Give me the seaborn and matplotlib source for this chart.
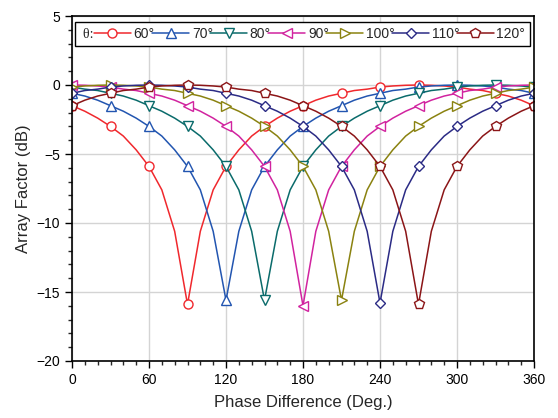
import matplotlib
matplotlib.use("Agg")
import matplotlib.pyplot as plt
import seaborn as sns
from matplotlib.legend_handler import HandlerBase
from matplotlib.lines import Line2D

# --- data (array factor in dB vs phase difference) ---
phase = list(range(0, 361, 10))

af_60 = [-1.5, -1.9, -2.4, -3.0, -3.7, -4.7, -5.9, -7.6, -10.6, -15.9,
         -10.6, -7.6, -5.9, -4.7, -3.7, -3.0, -2.4, -1.9, -1.5, -1.1,
         -0.8, -0.6, -0.4, -0.3, -0.15, -0.07, -0.02, 0.0, -0.02, -0.07,
         -0.15, -0.3, -0.4, -0.6, -0.8, -1.1, -1.5]
af_70 = [-0.6, -0.8, -1.1, -1.5, -1.9, -2.4, -3.0, -3.7, -4.7, -5.9,
         -7.6, -10.6, -15.6, -10.6, -7.6, -5.9, -4.7, -3.7, -3.0, -2.4,
         -1.9, -1.5, -1.1, -0.8, -0.6, -0.4, -0.3, -0.15, -0.07, -0.02,
         0.0, -0.02, -0.07, -0.15, -0.3, -0.4, -0.6]
af_80 = [-0.15, -0.3, -0.4, -0.6, -0.8, -1.1, -1.5, -1.9, -2.4, -3.0,
         -3.7, -4.7, -5.9, -7.6, -10.6, -15.6, -10.6, -7.6, -5.9, -4.7,
         -3.7, -3.0, -2.4, -1.9, -1.5, -1.1, -0.8, -0.6, -0.4, -0.3,
         -0.15, -0.07, -0.02, 0.0, -0.02, -0.07, -0.15]
af_90 = [0.0, -0.02, -0.07, -0.15, -0.3, -0.4, -0.6, -0.8, -1.1, -1.5,
         -1.9, -2.4, -3.0, -3.7, -4.7, -5.9, -7.6, -10.6, -16.0, -10.6,
         -7.6, -5.9, -4.7, -3.7, -3.0, -2.4, -1.9, -1.5, -1.1, -0.8,
         -0.6, -0.4, -0.3, -0.15, -0.07, -0.02, 0.0]
af_100 = [-0.15, -0.07, -0.02, 0.0, -0.02, -0.07, -0.15, -0.3, -0.4, -0.6,
          -0.8, -1.1, -1.5, -1.9, -2.4, -3.0, -3.7, -4.7, -5.9, -7.6,
          -10.6, -15.6, -10.6, -7.6, -5.9, -4.7, -3.7, -3.0, -2.4, -1.9,
          -1.5, -1.1, -0.8, -0.6, -0.4, -0.3, -0.15]
af_110 = [-0.6, -0.4, -0.3, -0.15, -0.07, -0.02, 0.0, -0.02, -0.07, -0.15,
          -0.3, -0.4, -0.6, -0.8, -1.1, -1.5, -1.9, -2.4, -3.0, -3.7,
          -4.7, -5.9, -7.6, -10.6, -15.8, -10.6, -7.6, -5.9, -4.7, -3.7,
          -3.0, -2.4, -1.9, -1.5, -1.1, -0.8, -0.6]
af_120 = [-1.5, -1.1, -0.8, -0.6, -0.4, -0.3, -0.15, -0.07, -0.02, 0.0,
          -0.02, -0.07, -0.15, -0.3, -0.4, -0.6, -0.8, -1.1, -1.5, -1.9,
          -2.4, -3.0, -3.7, -4.7, -5.9, -7.6, -10.6, -15.9, -10.6, -7.6,
          -5.9, -4.7, -3.7, -3.0, -2.4, -1.9, -1.5]

labels = ["60°", "70°", "80°", "90°", "100°", "110°", "120°"]
series = [af_60, af_70, af_80, af_90, af_100, af_110, af_120]
colors = ["#F0282D", "#2255B0", "#0A6B6B", "#D1239F", "#8A8210", "#2B2B85", "#8B1517"]
markers = ["o", "^", "v", "<", ">", "D", "p"]
msizes = [6.5, 7, 7, 7, 7, 5.5, 7]

# --- style ---
sns.set_style("white")
plt.rcParams["font.family"] = ["Liberation Sans", "DejaVu Sans"]


class HandlerBlank(HandlerBase):
    """zero-width handle so the 'θ:' entry sits flush left"""
    def legend_artist(self, legend, orig_handle, fontsize, handlebox):
        handlebox.width = 0
        a = Line2D([], [], visible=False)
        handlebox.add_artist(a)
        return a


fig = plt.figure(figsize=(5.58, 4.18), dpi=100)
ax = fig.add_axes([72 / 558, 1 - 361 / 418, 462 / 558, 345 / 418])

for vals, lab, col, mk, ms in zip(series, labels, colors, markers, msizes):
    sns.lineplot(x=phase, y=vals, ax=ax, color=col, marker=mk, markersize=ms,
                 markevery=3, mfc="white", mec=col, mew=1.0, lw=1.1, label=lab)

ax.set_xlim(0, 360)
ax.set_ylim(-20, 5)
ax.set_xticks(range(0, 361, 60))
ax.set_xticks(range(0, 361, 10), minor=True)
ax.set_yticks(range(-20, 6, 5))
ax.set_yticks(range(-20, 6, 1), minor=True)
ax.grid(True, which="major", color="#d4d4d4", lw=1.0)
ax.set_axisbelow(True)
ax.tick_params(which="major", direction="out", length=5, width=1, labelsize=10,
               bottom=True, left=True, top=False, right=False, colors="black")
ax.tick_params(which="minor", direction="out", length=3, width=1,
               bottom=True, left=True, top=False, right=False)
for sp in ax.spines.values():
    sp.set_color("black")
    sp.set_linewidth(1.2)

ax.set_xlabel("Phase Difference (Deg.)", fontsize=12, labelpad=6)
ax.set_ylabel("Array Factor (dB)", fontsize=12, labelpad=4)

handles, labs = ax.get_legend_handles_labels()
blank = Line2D([], [])
leg = ax.legend([blank] + handles, ["θ: "] + labs, ncol=8, fontsize=10,
                loc="upper left", bbox_to_anchor=(0.0065, 0.983 - 0.063, 0.985, 0.063),
                mode="expand", borderaxespad=0, borderpad=0.35,
                handlelength=2.65, handletextpad=0.2, columnspacing=0.1,
                frameon=True, fancybox=False, framealpha=1, edgecolor="black",
                handler_map={blank: HandlerBlank()})
leg.get_frame().set_linewidth(1.0)
leg.get_texts()[0].set_family(["Liberation Serif", "DejaVu Serif"])

fig.savefig("out.png", dpi=100)
